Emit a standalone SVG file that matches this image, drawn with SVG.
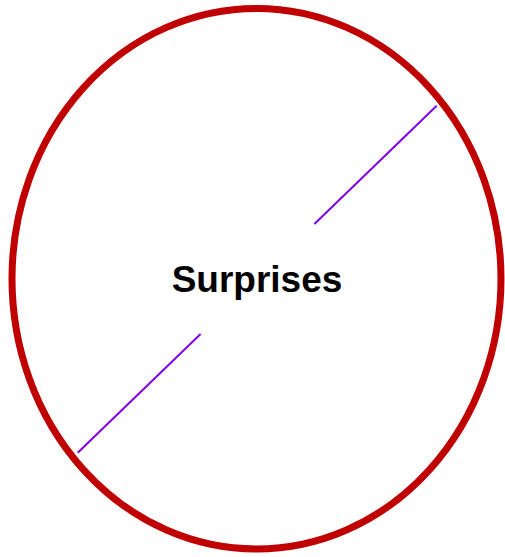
<svg xmlns="http://www.w3.org/2000/svg" width="505" height="557" viewBox="0 0 505 557">
<style>
.conn{stroke:#7f00e6;stroke-width:2;fill:none}
.node{fill:#fff;stroke:#c00000;stroke-width:7}
.lbl{font-family:"Liberation Sans",Arial,sans-serif;font-weight:bold;font-size:37px;fill:#000;text-anchor:middle}
</style>
<rect width="505" height="557" fill="#fff"/>
<g id="surprises">
<ellipse class="node" cx="256.5" cy="278.7" rx="244.5" ry="270.3"/>
<text class="lbl" x="257" y="292">Surprises</text>
</g>
<g id="connectors">
<line class="conn" x1="77.7" y1="452.7" x2="200.6" y2="334"/>
<line class="conn" x1="314.4" y1="224" x2="436.7" y2="105.7"/>
</g>
</svg>
